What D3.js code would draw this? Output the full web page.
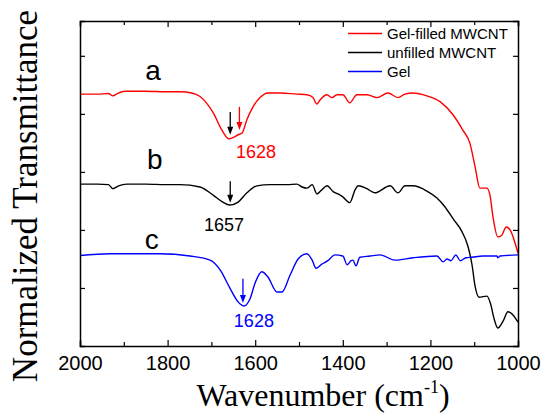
<!DOCTYPE html>
<html><head><meta charset="utf-8">
<script src="https://cdn.jsdelivr.net/npm/d3@7"></script>
<style>body{margin:0;background:#fff}svg{display:block}</style>
</head><body>
<svg id="c" width="547" height="413"></svg>
<script>
// Wavenumbers (cm^-1) and normalized transmittance (offset) for each series
const redWn = [2000,1960,1935,1925,1915,1897,1850,1800,1772,1745,1726,1696,1676,1660,1651,1639,1630,1619,1605,1589,1571,1543,1505,1482,1468,1459,1452,1436,1425,1413,1400,1384,1368,1345,1322,1297,1274,1258,1240,1208,1178,1148,1126,1110,1098,1087,1071,1064,1057,1046,1037,1027,1018,1007,1000];
const redVal = [4.34,4.34,4.35,4.31,4.35,4.39,4.39,4.38,4.38,4.36,4.30,4.02,3.72,3.57,3.59,3.64,3.67,3.90,4.12,4.28,4.36,4.36,4.34,4.33,4.28,4.17,4.24,4.33,4.28,4.33,4.33,4.19,4.33,4.33,4.28,4.36,4.28,4.34,4.36,4.31,4.21,3.98,3.72,3.50,3.09,2.72,2.72,2.60,2.22,1.88,1.91,2.05,2.00,1.78,1.60];

const blackWn = [2000,1960,1935,1925,1912,1893,1850,1800,1772,1726,1696,1674,1658,1639,1619,1596,1566,1527,1505,1493,1482,1470,1459,1448,1436,1422,1411,1400,1384,1372,1365,1345,1327,1292,1274,1258,1240,1208,1185,1167,1148,1128,1114,1105,1098,1089,1071,1062,1055,1046,1034,1023,1011,1000];
const blackVal = [2.79,2.79,2.78,2.71,2.76,2.79,2.79,2.78,2.78,2.74,2.60,2.48,2.43,2.48,2.64,2.76,2.78,2.78,2.79,2.74,2.72,2.78,2.62,2.69,2.76,2.66,2.62,2.57,2.47,2.69,2.76,2.71,2.64,2.76,2.64,2.76,2.76,2.67,2.55,2.40,2.19,1.97,1.71,1.40,1.03,0.84,0.86,0.71,0.48,0.31,0.43,0.59,0.53,0.41];

const blueWn = [2000,1932,1817,1749,1703,1680,1658,1639,1626,1612,1600,1585,1571,1550,1539,1521,1502,1482,1470,1461,1448,1434,1418,1400,1390,1381,1377,1370,1361,1338,1315,1281,1240,1185,1171,1162,1153,1142,1132,1119,1105,1080,1048,1046,1041,1000];
const blueVal = [1.56,1.59,1.59,1.55,1.48,1.31,1.00,0.76,0.69,0.81,1.09,1.28,1.19,0.93,0.93,1.21,1.50,1.59,1.48,1.34,1.41,1.47,1.57,1.55,1.40,1.47,1.48,1.38,1.53,1.55,1.57,1.48,1.52,1.55,1.45,1.50,1.47,1.57,1.47,1.52,1.53,1.55,1.55,1.52,1.55,1.57];

const seriesNames = ["Gel-filled MWCNT","unfilled MWCNT","Gel"];
const seriesColors = ["#ff0000","#000000","#0000ff"];
const curveLetters = ["a","b","c"];
const xTickValues = [2000,1800,1600,1400,1200,1000];
const yTickValues = [1,2,3,4,5];

const svg = d3.select("#c");
const L = 80, R = 518, T = 21, B = 346;
const x = d3.scaleLinear().domain([2000,1000]).range([L,R]);
const y = d3.scaleLinear().domain([0,5.6]).range([B,T]);

const series = [
  {wn: redWn, val: redVal},
  {wn: blackWn, val: blackVal},
  {wn: blueWn, val: blueVal}
];
const line = d3.line().x(d=>x(d[0])).y(d=>y(d[1])).curve(d3.curveMonotoneX);
series.forEach((s,i)=>{
  const pts = s.wn.map((w,j)=>[w,s.val[j]]);
  svg.append("path").datum(pts).attr("d",line)
    .attr("fill","none").attr("stroke",seriesColors[i]).attr("stroke-width",1.4);
});

// Axes
const minor = d3.range(1000,2001,100);
const axB = d3.axisBottom(x).tickValues(minor).tickSize(-5).tickFormat(d=> xTickValues.includes(d)? d : "");
const gB = svg.append("g").attr("transform",`translate(0,${B})`).call(axB);
gB.selectAll(".tick line").attr("y2", d=> xTickValues.includes(d)? -6 : -4);
gB.selectAll("text").attr("dy",0).attr("y",24).style("font-family","Arial, 'Liberation Sans', sans-serif").style("font-size","20px").attr("fill","#000");
const axT = d3.axisTop(x).tickValues(minor).tickSize(-5).tickFormat("");
const gT = svg.append("g").attr("transform",`translate(0,${T})`).call(axT);
gT.selectAll(".tick line").attr("y2", d=> xTickValues.includes(d)? 6 : 4);
const axL = d3.axisLeft(y).tickValues(yTickValues).tickSize(-5).tickFormat("");
svg.append("g").attr("transform",`translate(${L},0)`).call(axL);
const axR = d3.axisRight(y).tickValues(yTickValues).tickSize(-5).tickFormat("");
svg.append("g").attr("transform",`translate(${R},0)`).call(axR);
svg.selectAll(".domain").attr("stroke","#000").attr("stroke-width",1.5);
svg.selectAll(".tick line").attr("stroke","#000").attr("stroke-width",1.2);

// Axis titles
svg.append("text").attr("x",(L+R)/2+24).attr("y",406).attr("text-anchor","middle")
  .style("font-family","'Liberation Serif','Times New Roman',serif").style("font-size","32px")
  .html('Wavenumber (cm<tspan dy="-13" font-size="18">-1</tspan><tspan dy="13">)</tspan>');
svg.append("text").attr("transform",`translate(37,196) rotate(-90)`).attr("text-anchor","middle")
  .style("font-family","'Liberation Serif','Times New Roman',serif").style("font-size","35px")
  .text("Normalized Transmittance");

// Legend
const legY = [33.5,52.5,71.5];
seriesNames.forEach((n,i)=>{
  svg.append("line").attr("x1",348).attr("x2",382).attr("y1",legY[i]).attr("y2",legY[i])
    .attr("stroke",seriesColors[i]).attr("stroke-width",1.4);
  svg.append("text").attr("x",387).attr("y",legY[i]+5).text(n)
    .style("font-family","Arial, 'Liberation Sans', sans-serif").style("font-size","15px");
});

// curve letters
const letterPos = [[1833,4.59],[1829,3.05],[1836,1.67]];
curveLetters.forEach((t,i)=>{
  svg.append("text").attr("x",x(letterPos[i][0])).attr("y",y(letterPos[i][1])).attr("text-anchor","middle")
    .style("font-family","Arial, 'Liberation Sans', sans-serif").style("font-size","28px").text(t);
});

// arrows
const arrows = [
  {wn:1657, y1:4.03, y2:3.64, c:"#000"},
  {wn:1636, y1:4.12, y2:3.72, c:"#ff0000"},
  {wn:1657, y1:2.84, y2:2.47, c:"#000"},
  {wn:1628, y1:1.16, y2:0.74, c:"#0000ff"}
];
arrows.forEach(a=>{
  const ax = x(a.wn), ya = y(a.y1), yb = y(a.y2);
  svg.append("line").attr("x1",ax).attr("x2",ax).attr("y1",ya).attr("y2",yb-7).attr("stroke",a.c).attr("stroke-width",1.3);
  svg.append("path").attr("d",`M${ax-3},${yb-8} L${ax+3},${yb-8} L${ax},${yb} Z`).attr("fill",a.c);
});

// peak labels
const peakLabels = [
  {t:"1628", wn:1598, v:3.24, c:"#ff0000"},
  {t:"1657", wn:1671, v:1.98, c:"#000"},
  {t:"1628", wn:1603, v:0.33, c:"#0000ff"}
];
peakLabels.forEach(p=>{
  svg.append("text").attr("x",x(p.wn)).attr("y",y(p.v)).attr("text-anchor","middle").attr("fill",p.c)
    .style("font-family","Arial, 'Liberation Sans', sans-serif").style("font-size","18px").text(p.t);
});
</script>
</body></html>
